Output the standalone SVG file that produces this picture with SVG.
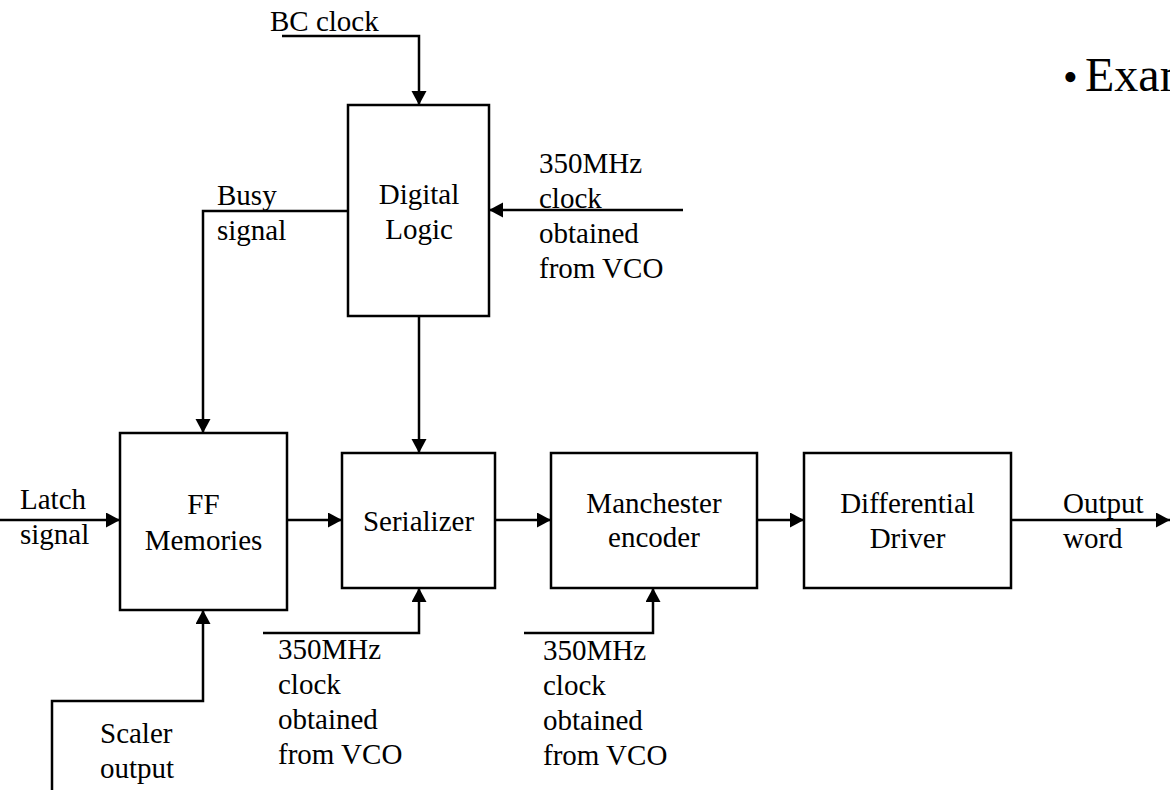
<svg xmlns="http://www.w3.org/2000/svg" width="1170" height="790" viewBox="0 0 1170 790">
<defs>
<marker id="arr" markerUnits="userSpaceOnUse" markerWidth="15" markerHeight="16" refX="14" refY="7.5" orient="auto">
<path d="M0,0 L14,7.5 L0,15 z" fill="#000"/>
</marker>
<style>
text{font-family:"Liberation Serif","Times New Roman",serif;font-size:29px;fill:#000}
.c{text-anchor:middle}
.box{fill:#fff;stroke:#000;stroke-width:2.5}
.ln{fill:none;stroke:#000;stroke-width:2.5}
.a{marker-end:url(#arr)}
</style>
</defs>
<rect width="1170" height="790" fill="#fff"/>
<g id="connectors">
<path class="ln a" d="M282,36 H419 V105"/>
<path class="ln a" d="M683,210 H489"/>
<path class="ln a" d="M348,211 H203 V433"/>
<path class="ln a" d="M419,316 V453"/>
<path class="ln a" d="M0,520 H120"/>
<path class="ln a" d="M287,520 H342"/>
<path class="ln a" d="M52,790 V701 H203 V610"/>
<path class="ln a" d="M263,633 H419 V588"/>
<path class="ln a" d="M495,520 H551"/>
<path class="ln a" d="M524,633 H653 V588"/>
<path class="ln a" d="M757,520 H804"/>
<path class="ln a" d="M1011,520 H1170"/>
</g>
<g id="digital-logic">
<rect class="box" x="348" y="105" width="141" height="211"/>
<text class="c" x="419" y="204">Digital</text>
<text class="c" x="419" y="239">Logic</text>
</g>
<g id="ff-memories">
<rect class="box" x="120" y="433" width="167" height="177"/>
<text class="c" x="203.5" y="514">FF</text>
<text class="c" x="203.5" y="550">Memories</text>
</g>
<g id="serializer">
<rect class="box" x="342" y="453" width="153" height="135"/>
<text class="c" x="418.5" y="531">Serializer</text>
</g>
<g id="manchester-encoder">
<rect class="box" x="551" y="453" width="206" height="135"/>
<text class="c" x="654" y="513">Manchester</text>
<text class="c" x="654" y="547">encoder</text>
</g>
<g id="differential-driver">
<rect class="box" x="804" y="453" width="207" height="135"/>
<text class="c" x="907.5" y="513">Differential</text>
<text class="c" x="907.5" y="548">Driver</text>
</g>
<g id="labels">
<text x="270" y="31">BC clock</text>
<text x="539" y="173">350MHz</text>
<text x="539" y="208">clock</text>
<text x="539" y="243">obtained</text>
<text x="539" y="278">from VCO</text>
<text x="217" y="205">Busy</text>
<text x="217" y="240">signal</text>
<text x="20" y="509">Latch</text>
<text x="20" y="544">signal</text>
<text x="1063" y="513">Output</text>
<text x="1063" y="548">word</text>
<text x="278" y="659">350MHz</text>
<text x="278" y="694">clock</text>
<text x="278" y="729">obtained</text>
<text x="278" y="764">from VCO</text>
<text x="543" y="660">350MHz</text>
<text x="543" y="695">clock</text>
<text x="543" y="730">obtained</text>
<text x="543" y="765">from VCO</text>
<text x="100" y="743">Scaler</text>
<text x="100" y="778">output</text>
<text x="1063" y="91" style="font-size:42px">•</text>
<text x="1085" y="91" style="font-size:48px">Exam</text>
</g>
</svg>
